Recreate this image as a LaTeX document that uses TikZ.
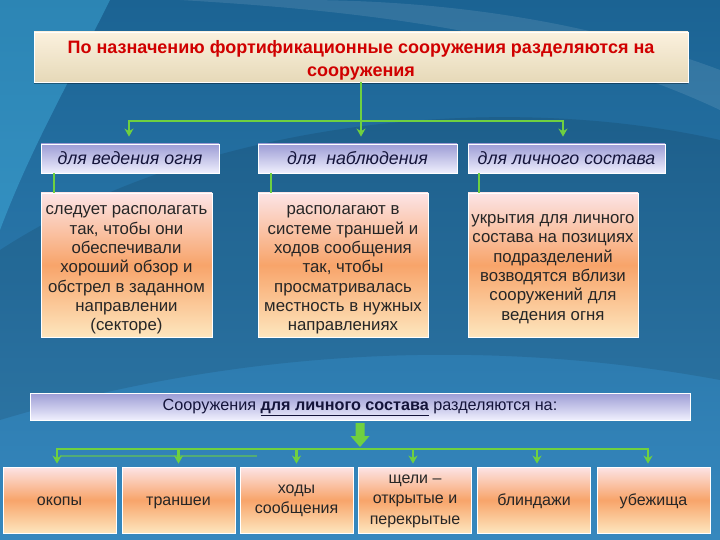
\documentclass[tikz,border=0pt]{standalone}
\usepackage{fontspec}
\setmainfont{Liberation Sans}
\usetikzlibrary{arrows.meta,calc}
\definecolor{bgtop}{HTML}{1B6393}
\definecolor{bgbot}{HTML}{3688BE}
\definecolor{gr}{HTML}{6FD040}
\definecolor{titred}{HTML}{D00000}
\definecolor{navy}{HTML}{14143A}
\definecolor{otop}{HTML}{FCE4E6}
\definecolor{omid}{HTML}{F8A46A}
\definecolor{obot}{HTML}{FDE6BE}
\definecolor{ttop}{HTML}{FBF1DE}
\definecolor{tbot}{HTML}{E6D9B8}
\definecolor{htop}{HTML}{9C9CD5}
\definecolor{hbot}{HTML}{EFEFFD}
\begin{document}
\begin{tikzpicture}[x=1pt,y=-1pt,
  gline/.style={draw=gr,line width=2.6pt},
  garr/.style={draw=gr,line width=2.6pt,-{Stealth[length=8pt,width=9pt]}},
  gthin/.style={draw=gr,line width=2pt},
  titlebox/.style={draw=white,line width=0.6pt,top color=ttop,bottom color=tbot,
    minimum width=654pt,minimum height=50pt,inner sep=0pt},
  titletext/.style={inner sep=0pt,align=center,font=\fontsize{18}{23}\selectfont\bfseries,text=titred},
  hdr/.style={draw=white,line width=0.8pt,top color=htop,bottom color=hbot,
    minimum height=29pt,inner sep=0pt,align=center,font=\fontsize{17.8}{19}\selectfont\itshape,text=navy},
  orangefill/.style={draw=white,line width=0.8pt,shading=axis,top color=otop,bottom color=obot,middle color=omid},
  cbox/.style={orangefill,minimum height=144pt,inner sep=0pt},
  ctext/.style={inner sep=0pt,align=center,font=\fontsize{16.8}{19.3}\selectfont,text=black!85},
  bbox/.style={orangefill,minimum width=113pt,minimum height=66pt,inner sep=0pt},
  btext/.style={inner sep=0pt,align=center,font=\fontsize{16}{20.5}\selectfont,text=black!85},
  oneline/.style={text height=11.5pt,text depth=3.5pt},
]
\useasboundingbox (0,0) rectangle (720,540);
% background
\shade[top color=bgtop,bottom color=bgbot] (0,0) rectangle (720,540);
\fill[cyan!70!white,opacity=0.35] (0,0) -- (110,0) .. controls (70,80) and (30,150) .. (0,230) -- cycle;
\fill[white,opacity=0.10] (180,0) .. controls (350,10) and (550,30) .. (720,110) -- (720,70) .. controls (560,10) and (400,0) .. (300,0) -- cycle;
\fill[black,opacity=0.10] (0,250) .. controls (200,120) and (500,90) .. (720,140) -- (720,380) .. controls (450,330) and (200,360) .. (0,420) -- cycle;

% title
\fill[black,opacity=0.35] (34,82) rectangle (688,84.5);
\node[titlebox] (title) at (361,57) {};
\node[titletext] (titlet) at ([yshift=-3.5pt]title.center) {По назначению фортификационные сооружения разделяются на\\сооружения};

% headers
\node[hdr,minimum width=178pt] (h1) at (130,158.5) {для ведения огня};
\node[hdr,minimum width=199pt] (h2) at (357.5,158.5) {для\ \ наблюдения};
\node[hdr,minimum width=197pt] (h3) at (566.5,158.5) {для личного состава};

% content boxes
\node[cbox,minimum width=171pt] (c1) at (126.5,265) {};
\node[cbox,minimum width=170pt] (c2) at (343,265) {};
\node[cbox,minimum width=170pt] (c3) at (553,265) {};
\node[ctext] (c1t) at ([yshift=-5pt]c1.center) {следует располагать\\так, чтобы они\\обеспечивали\\хороший обзор и\\обстрел в заданном\\направлении\\(секторе)};
\node[ctext] (c2t) at ([yshift=-5pt]c2.center) {располагают в\\системе траншей и\\ходов сообщения\\так, чтобы\\просматривалась\\местность в нужных\\направлениях};
\node[ctext] (c3t) at ([yshift=-4pt]c3.center) {укрытия для личного\\состава на позициях\\подразделений\\возводятся вблизи\\сооружений для\\ведения огня};

% top connectors
\coordinate (bus1) at (361,121);
\draw[gline] (title.south) -- (bus1);
\draw[garr,shorten >=7pt] (bus1) -| ([xshift=-1pt]h1.north);
\draw[garr,shorten >=7pt] (bus1) -| ([xshift=-3.5pt]h3.north);
\draw[garr,shorten >=7pt] (bus1) -- (bus1 |- h2.north);
\draw[gthin] ([xshift=13pt]h1.south west) -- ([xshift=13pt]c1.north west);
\draw[gthin] ([xshift=13pt]h2.south west) -- ([xshift=13pt]c2.north west);
\draw[gthin] ([xshift=11pt]h3.south west) -- ([xshift=11pt]c3.north west);

% bottom header
\node[draw=white,line width=0.8pt,top color=htop,bottom color=hbot,
  minimum width=660pt,minimum height=27pt,inner sep=0pt,font=\fontsize{16.2}{18}\selectfont,text=navy,
  text height=12pt,text depth=4pt]
  (bh) at (360,406.5) {Сооружения \textbf{\underline{для личного состава}} разделяются на:};

% big arrow
\coordinate (ba) at (360,423);
\fill[gr] ($(ba)+(-4.5,0)$) -- ($(ba)+(4.5,0)$) -- ($(ba)+(4.5,13)$) -- ($(ba)+(9.5,13)$) -- ($(ba)+(0,24)$) -- ($(ba)+(-9.5,13)$) -- ($(ba)+(-4.5,13)$) -- cycle;

% bottom boxes
\node[bbox] (b1) at (59.5,500) {};
\node[bbox] (b2) at (178.5,500) {};
\node[bbox] (b3) at (296.5,500) {};
\node[bbox] (b4) at (415,500) {};
\node[bbox] (b5) at (534,500) {};
\node[bbox] (b6) at (653.5,500) {};
\node[btext,oneline] (b1t) at ([yshift=-1pt]b1.center) {окопы};
\node[btext,oneline] (b2t) at ([yshift=-1pt]b2.center) {траншеи};
\node[btext] (b3t) at ([yshift=-1pt]b3.center) {ходы\\сообщения};
\node[btext] (b4t) at ([yshift=-1pt]b4.center) {щели –\\открытые и\\перекрытые};
\node[btext,oneline] (b5t) at ([yshift=-1pt]b5.center) {блиндажи};
\node[btext,oneline] (b6t) at ([yshift=-1pt]b6.center) {убежища};

\coordinate (bus2) at (360,449);
\coordinate (l2a) at (60,456);
\coordinate (l2b) at (257,456);
\draw[gr,line width=1.4pt,opacity=0.55] (l2a) -- (l2b);
\draw[garr,shorten >=3pt] (bus2) -| ([xshift=-2.5pt]b1.north);
\draw[garr,shorten >=3pt] (bus2) -| (b2.north);
\draw[garr,shorten >=3pt] (bus2) -| (b3.north);
\draw[garr,shorten >=3pt] (bus2) -| ([xshift=-2pt]b4.north);
\draw[garr,shorten >=3pt] (bus2) -| ([xshift=3pt]b5.north);
\draw[garr,shorten >=3pt] (bus2) -| ([xshift=-5.5pt]b6.north);
\end{tikzpicture}
\end{document}
